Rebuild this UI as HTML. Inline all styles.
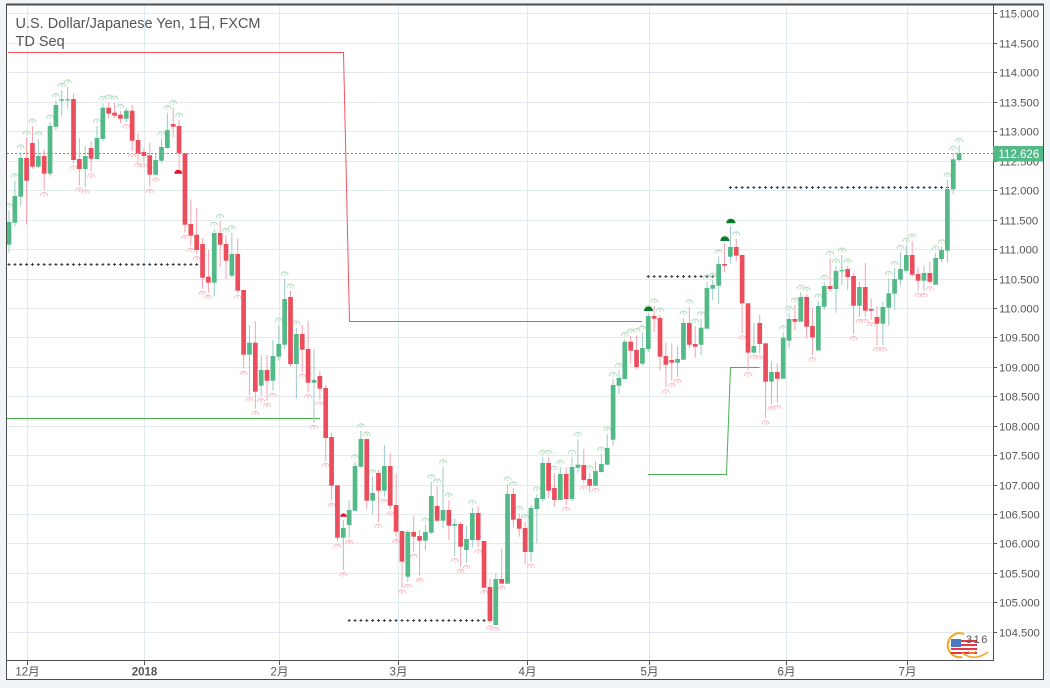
<!DOCTYPE html>
<html><head><meta charset="utf-8">
<style>
html,body{margin:0;padding:0;background:#f1f4f7;width:1050px;height:688px;overflow:hidden}
svg{display:block}
text{font-family:"Liberation Sans","Noto Sans CJK JP",sans-serif}
</style></head><body>
<svg width="1050" height="688" viewBox="0 0 1050 688" xmlns="http://www.w3.org/2000/svg">
<defs><clipPath id="cp"><rect x="7" y="6" width="986" height="654"/></clipPath></defs>
<rect x="6" y="5" width="1037" height="674" fill="#ffffff"/>
<!-- grid -->
<g stroke="#e2eaf0" stroke-width="1">
<path d="M7,13.5H993M7,43.5H993M7,72.5H993M7,102.5H993M7,131.5H993M7,161.5H993M7,190.5H993M7,220.5H993M7,249.5H993M7,279.5H993M7,308.5H993M7,337.5H993M7,367.5H993M7,396.5H993M7,426.5H993M7,455.5H993M7,485.5H993M7,514.5H993M7,543.5H993M7,573.5H993M7,602.5H993M7,632.5H993"/>
<path d="M27.5,6V660M144.5,6V660M279.5,6V660M398.5,6V660M527.5,6V660M649.5,6V660M786.5,6V660M907.5,6V660"/>
</g>
<g clip-path="url(#cp)">
<!-- title -->
<text x="15.5" y="28" font-size="14.5" fill="#555">U.S. Dollar/Japanese Yen, 1日, FXCM</text>
<text x="15.5" y="46" font-size="14.5" fill="#555">TD Seq</text>
<!-- support/resistance lines -->
<path d="M8,52.5H343.5L349.5,321.5H642" fill="none" stroke="#f2545f" stroke-width="1"/>
<path d="M7,418.5H320" fill="none" stroke="#4caf50" stroke-width="1"/>
<path d="M648,474.5H726.5L730.5,367.5H759.5" fill="none" stroke="#4caf50" stroke-width="1"/>
<!-- price line -->
<path d="M7,153.5H993" stroke="#5aa57e" stroke-width="1" stroke-dasharray="2,2"/>
<g id="plus" stroke="#444" stroke-width="1"></g>
<g id="td"></g>
<g id="candles"></g>
<!-- special markers -->
<path d="M174.3,173.7A4,4 0 0 1 182.3,173.7Z" fill="#e8102a"/>
<path d="M340.2,516.7A3.3,3.3 0 0 1 346.8,516.7Z" fill="#e8102a"/>
<path d="M644,311A4.5,4.5 0 0 1 653,311Z" fill="#0b7a29"/>
<path d="M720.3,241A4.6,4.6 0 0 1 729.5,241Z" fill="#0b7a29"/>
<path d="M726.3,223.3A4.6,4.6 0 0 1 735.5,223.3Z" fill="#0b7a29"/>
<!-- icon -->
<g>
<path d="M964,634 A12,12 0 1 0 962,657" fill="none" stroke="#f5a623" stroke-width="2"/>
<rect x="951" y="639" width="26" height="15" fill="#fff"/>
<rect x="951" y="640" width="26" height="2" fill="#e53946"/>
<rect x="951" y="644" width="26" height="2" fill="#e53946"/>
<rect x="951" y="648" width="26" height="2" fill="#e53946"/>
<rect x="951" y="652" width="26" height="2" fill="#e53946"/>
<rect x="951" y="639" width="10" height="8" fill="#4a78c2"/>
<path d="M962,653 Q975,662 988,652" fill="none" stroke="#f5a623" stroke-width="1.5"/>
<path d="M968,651 Q972,656 976,651" fill="none" stroke="#f5a623" stroke-width="1.2"/>
<text x="966" y="643" font-size="11" fill="#555" letter-spacing="1.5">316</text>
</g>
</g>
<!-- borders -->
<g stroke="#4d4d4d" fill="none">
<path d="M6,4.5H1044" stroke-width="2"/>
<path d="M6.5,4V680"/>
<path d="M1043.5,4V680"/>
<path d="M6,679.5H1044"/>
<path d="M993.5,4V660"/>
<path d="M6,660.5H994"/>
</g>
<!-- price axis ticks & labels -->
<g stroke="#555"><path d="M993,13.5H997M993,43.5H997M993,72.5H997M993,102.5H997M993,131.5H997M993,161.5H997M993,190.5H997M993,220.5H997M993,249.5H997M993,279.5H997M993,308.5H997M993,337.5H997M993,367.5H997M993,396.5H997M993,426.5H997M993,455.5H997M993,485.5H997M993,514.5H997M993,543.5H997M993,573.5H997M993,602.5H997M993,632.5H997"/></g>
<g font-size="11.3" fill="#555">
<text x="999" y="17.5">115.000</text>
<text x="999" y="47.5">114.500</text>
<text x="999" y="76.5">114.000</text>
<text x="999" y="106.5">113.500</text>
<text x="999" y="135.5">113.000</text>
<text x="999" y="165.5">112.500</text>
<text x="999" y="194.5">112.000</text>
<text x="999" y="224.5">111.500</text>
<text x="999" y="253.5">111.000</text>
<text x="999" y="283.5">110.500</text>
<text x="999" y="312.5">110.000</text>
<text x="999" y="341.5">109.500</text>
<text x="999" y="371.5">109.000</text>
<text x="999" y="400.5">108.500</text>
<text x="999" y="430.5">108.000</text>
<text x="999" y="459.5">107.500</text>
<text x="999" y="489.5">107.000</text>
<text x="999" y="518.5">106.500</text>
<text x="999" y="547.5">106.000</text>
<text x="999" y="577.5">105.500</text>
<text x="999" y="606.5">105.000</text>
<text x="999" y="636.5">104.500</text>
</g>
<rect x="993" y="146" width="50" height="15.5" fill="#53b987"/>
<text x="998.5" y="158" font-size="11.5" fill="#ffffff">112.626</text>
<!-- time axis -->
<g stroke="#555"><path d="M27.5,661V665M144.5,661V665M279.5,661V665M398.5,661V665M527.5,661V665M649.5,661V665M786.5,661V665M907.5,661V665"/></g>
<g font-size="11.5" fill="#555" text-anchor="middle">
<text x="27.5" y="675.5">12月</text>
<text x="144.5" y="675.5" font-weight="bold">2018</text>
<text x="279.5" y="675.5">2月</text>
<text x="398.5" y="675.5">3月</text>
<text x="527.5" y="675.5">4月</text>
<text x="649.5" y="675.5">5月</text>
<text x="786.5" y="675.5">6月</text>
<text x="907.5" y="675.5">7月</text>
</g>
</svg>
<script>
var D=[
[1,222,244.7,210.7,252.7],[1,196,222.7,180.7,226.7],[1,158,196.7,152,206],[0,158,180.7,138,224.7],[0,143,166.7,126,168.7],
[1,156,166.7,138.7,168],[0,156,173.7,150,190],[1,126,173.7,122,176.7],[1,105,126.7,100.7,130],[1,99.3,100.7,90,116.7],
[1,99.3,100.3,86.7,108.7],[0,99,160,93.3,163.3],[0,159,169,138,185.3],[1,156,169,146,187.3],[0,148,158.7,141.3,171.3],
[1,138,159,126,159.3],[1,107.7,139,103.3,140.7],[0,107.7,113.7,102,118.7],[0,112.7,115.7,103,118],[0,114.7,118.7,111.3,123.3],
[1,110.7,118.7,107.3,122],[0,110.7,140.7,104.7,151.3],[0,140,153.3,133,160.7],[0,152,156,147.3,161.3],[0,155.3,174.7,142.7,186.7],
[1,160,174.7,154,175.3],[1,147,160.7,138.7,162.7],[1,130,148,112.7,148.7],[0,124,126.7,107.3,137.3],[0,126,153.3,120,168.7],
[0,153.3,224.7,153.3,232.7],[0,224,235.7,199.3,245.7],[0,234.7,250,208,254],[0,244,277.7,238,288.7],[0,276.7,282.7,250,292.7],
[1,233,282.7,229.3,296.7],[0,233,244.7,221.3,266.7],[0,244,260.7,235.3,278.7],[1,254,275.7,232.7,277.7],[0,254,290.7,238.7,292.7],
[0,290,354.7,290,368.7],[1,342.7,354.7,325.3,395.3],[0,342.7,391.7,321.3,408.7],[1,370,385.7,355,396],[0,370,380.7,355,400.7],
[1,356,380.7,340,390.7],[1,344,356.7,325.3,360.7],[1,299,344.7,278.7,349.3],[0,297,364,291,366.7],[1,334,364,328,398.7],
[0,334,349.7,325,371.7],[0,349,382.7,320.7,392],[1,380,382.7,349,422.7],[0,376,388.7,370.7,399.3],[0,388,438,385,460.7],
[0,437,485.7,432.7,500.7],[0,485.3,537.7,485.3,541.7],[1,528,537.7,520,570],[1,510,525,500.7,537.7],[1,466,510.7,461.7,510.7],
[1,439,466.7,430.7,467.7],[0,439,500.7,439,509],[1,493,500.7,476.7,514],[0,473,490.7,470,521.7],[1,466,490.7,445,496.7],
[0,466,505.7,453.3,509.3],[0,505,531.7,473.3,536.7],[0,531,561.7,531,587.3],[1,532,576.7,530,581.7],[0,532,536.7,516,551.7],
[0,536,540.7,530,575.7],[1,532,540.7,525,550],[1,496,532.7,481.7,534],[0,506,520.7,486,521.7],[1,510,520.7,466.7,528.3],
[0,510,525.7,500,540],[1,524,525.7,518.3,556],[0,524,546.7,521.7,566.7],[1,539,550,525.7,562.7],[1,513,540,507.3,547.3],
[0,513,540,506,547.3],[0,541,587.7,541,587.7],[0,587,621,578.3,623.3],[1,579,625,573.3,625],[0,579,583.7,548.7,583.7],
[1,494,583.7,484,583.7],[0,494,519.7,488.7,527.7],[0,518.7,528.7,513.3,536.7],[0,528,552,521.7,564],[1,508,552,504.7,561.7],
[1,498,509,494,543.3],[1,463,499,457.3,501.3],[0,463,490.7,457.3,498],[0,488,500,473.3,506.7],[1,474,500,467.3,500],
[0,474,499,467.3,504.7],[1,467,499,457.3,501.3],[1,464.7,467.7,439.3,472.7],[0,465,480,449,483.3],[0,479,485.7,472.7,492],
[1,471,485.7,461.3,485.7],[1,464,472,454,472.7],[1,448,464.7,434,464.7],[1,385,439.7,379.3,445.7],[1,378,385.7,370,394],
[1,341.7,379,339.3,379],[0,341.7,350.7,336,363.3],[0,350,367,335.3,369],[1,348,363.7,332.7,365.7],[1,316,349,312.7,352],
[0,316,318.7,306,332],[0,318,356.7,315,370.7],[0,356,364.7,342.7,387.3],[0,360,362.7,343.3,380.7],[1,359,362.7,346,376.7],
[1,323,359.7,318,359.7],[0,323,344.7,306.7,348.3],[0,344,346.7,326,357.7],[1,327.7,344.7,318.7,355],[1,288,328.7,281.7,328.7],
[1,285,288.7,280,300],[1,264,285.7,256.7,304],[0,264,265.7,243.3,272],[1,247,256.7,226,263.3],[0,247,255.7,238.7,261.3],
[0,255,303.3,255,333.3],[0,303.3,352.7,303.3,370],[1,346,352.7,323.3,352.7],[0,323,344,315,353.3],[0,343.3,381.7,343.3,418.3],
[1,372,381.7,361.3,404],[0,372,378.7,363.3,402.7],[1,337.7,378.7,332.7,378.7],[1,319,340.7,313.3,348.3],[0,319,321.7,305,330],
[1,297,321.7,292.3,321.7],[0,297,326.7,294.3,338.3],[0,326,337.5,308.3,355],[1,306,350.5,301,350.5],[1,286,306.7,282.3,310],
[0,286,289,258.3,291.7],[1,271,289,266,312.7],[1,270,271.3,255,285],[0,269,277,266,290],[0,276,305.7,273.3,334],
[1,287,305.7,281.7,316.7],[0,287,310.7,263,316.7],[0,309,310.7,298.3,320],[0,317,323.7,306,345],[1,307,323.7,301.7,345],
[1,293.3,307.7,278.3,325.7],[1,279,293.7,268.3,310],[1,269,279.7,252.3,285.7],[1,255,270.7,245.3,272.7],[0,255,274.7,241,276.7],
[0,274,280.7,267.3,290.7],[1,273,280.7,265.3,290.7],[0,273,281.7,262,284.3],[1,258,284.7,253,284.7],[1,250,259,246.7,262.3],
[1,189,250.7,180,262.7],[1,159.3,189.3,153.3,194.3],[1,153.3,160,145.3,161.7]
];
function cx(i){return 9+i*5.865;}
var s='',t='',p='';
var cl=D.map(function(d){return d[0]?d[1]:d[2];});
var sc=0,bcn=0;
for(var i=0;i<D.length;i++){
  var d=D[i],x=cx(i),g=d[0];
  var wc=g?'#9cc8c6':'#f4a3ad',bc=g?'#53b987':'#eb4d5c';
  s+='<line x1="'+x.toFixed(2)+'" x2="'+x.toFixed(2)+'" y1="'+d[3]+'" y2="'+d[4]+'" stroke="'+wc+'" stroke-width="1"/>';
  var h=Math.max(1.2,d[2]-d[1]);
  s+='<rect x="'+(x-2.35).toFixed(2)+'" y="'+d[1]+'" width="4.7" height="'+h.toFixed(2)+'" fill="'+bc+'"/>';
  var prev=i>=4?cl[i-4]:300;
  if(cl[i]<prev){sc=sc%9+1;bcn=0;
    var y0=d[3]-3.5;
    t+='<path d="M'+(x-3.5).toFixed(2)+','+y0+'A3.5,3.5 0 0 1 '+(x+3.5).toFixed(2)+','+y0+'" fill="none" stroke="#b2dcbd" stroke-width="1"/>';
    t+='<text x="'+x.toFixed(2)+'" y="'+(y0+0.5)+'" font-size="4.5" fill="#9fd0ac" text-anchor="middle">'+sc+'</text>';
  } else if(cl[i]>prev){bcn=bcn%9+1;sc=0;
    var y1=d[4]+6;
    t+='<path d="M'+(x-3.5).toFixed(2)+','+y1+'A3.5,3.5 0 0 1 '+(x+3.5).toFixed(2)+','+y1+'" fill="none" stroke="#f7bcc3" stroke-width="1"/>';
    t+='<text x="'+x.toFixed(2)+'" y="'+(y1+0.5)+'" font-size="4.5" fill="#f2a6b0" text-anchor="middle">'+bcn+'</text>';
  } else {sc=0;bcn=0;}
}
function plusRow(a,b,y){for(var k=a;k<=b;k++){var x=cx(k-1);p+='<path d="M'+(x-1.5).toFixed(2)+','+y+'H'+(x+1.5).toFixed(2)+'M'+x.toFixed(2)+','+(y-1.5)+'V'+(y+1.5)+'"/>';}}
plusRow(1,33,264.5);
plusRow(59,82,620.5);
plusRow(110,121,276.5);
plusRow(124,161,187.5);
document.getElementById('candles').innerHTML=s;
document.getElementById('td').innerHTML=t;
document.getElementById('plus').innerHTML=p;
</script>
</body></html>
